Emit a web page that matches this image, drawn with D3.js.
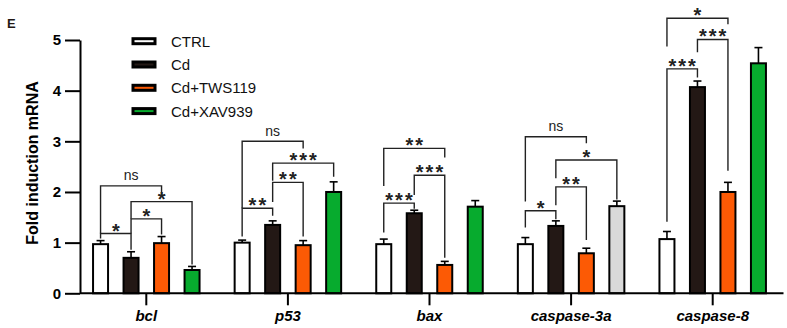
<!DOCTYPE html>
<html>
<head>
<meta charset="utf-8">
<script src="https://cdn.jsdelivr.net/npm/d3@7/dist/d3.min.js"></script>
<style>
  body { margin: 0; background: #fff; }
  svg { display: block; font-family: Arial, "Liberation Sans", sans-serif; }
</style>
</head>
<body>
<svg class="chart" width="787" height="328"></svg>
<script>
// genes on the x axis, treatment groups inside each gene
var genes = ["bcl", "p53", "bax", "caspase-3a", "caspase-8"];
var groups = ["CTRL", "Cd", "Cd+TWS119", "Cd+XAV939"];

// mean fold induction per group (one value per gene)
var ctrlMean = [0.97, 1.00, 0.97, 0.97, 1.07];
var cdMean   = [0.70, 1.35, 1.58, 1.33, 4.07];
var twsMean  = [0.99, 0.95, 0.56, 0.79, 2.00];
var xavMean  = [0.46, 2.00, 1.71, 1.72, 4.54];

// error bar (upper only)
var ctrlErr = [0.07, 0.05, 0.10, 0.13, 0.15];
var cdErr   = [0.12, 0.08, 0.06, 0.10, 0.12];
var twsErr  = [0.13, 0.09, 0.07, 0.10, 0.19];
var xavErr  = [0.07, 0.20, 0.12, 0.10, 0.31];

var yTicks = [0, 1, 2, 3, 4, 5];

// significance brackets: gene, from group, to group, level, left leg end, right leg end, label
var brackets = [
  ["bcl", 0, 1, 1.18, 1.08, 0.86, "*"],
  ["bcl", 1, 2, 1.47, 1.18, 1.16, "*"],
  ["bcl", 1, 3, 1.81, 1.47, 0.57, "*"],
  ["bcl", 0, 2, 2.12, 1.18, 1.92, "ns"],
  ["p53", 0, 1, 1.68, 1.12, 1.53, "**"],
  ["p53", 1, 2, 2.19, 1.80, 1.12, "**"],
  ["p53", 1, 3, 2.57, 2.22, 2.30, "***"],
  ["p53", 0, 2, 3.00, 1.68, 2.86, "ns"],
  ["bax", 0, 1, 1.78, 1.20, 1.67, "***"],
  ["bax", 1, 2, 2.33, 1.94, 0.70, "***"],
  ["bax", 0, 2, 2.86, 2.12, 2.68, "**"],
  ["caspase-3a", 0, 1, 1.63, 1.30, 1.46, "*"],
  ["caspase-3a", 1, 2, 2.10, 1.74, 1.05, "**"],
  ["caspase-3a", 1, 3, 2.63, 2.27, 1.85, "*"],
  ["caspase-3a", 0, 2, 3.09, 1.81, 2.96, "ns"],
  ["caspase-8", 0, 1, 4.43, 1.41, 4.26, "***"],
  ["caspase-8", 1, 2, 5.01, 4.76, 2.42, "***"],
  ["caspase-8", 0, 2, 5.43, 4.87, 5.31, "*"]
];

var means = [ctrlMean, cdMean, twsMean, xavMean];
var errs = [ctrlErr, cdErr, twsErr, xavErr];
var colors = ["#ffffff", "#231815", "#fc5a05", "#07ab2e"];
var greyFill = "#d9d9d9"; // 4th bar of caspase-3a is grey in the figure

var svg = d3.select(".chart");

var x = d3.scaleBand().domain(genes).range([75.5, 783.5]);
var inner = d3.scaleBand().domain(d3.range(groups.length))
  .range([-61, 61]).paddingInner(0.508).paddingOuter(0.254);
var y = d3.scaleLinear().domain([0, 5]).range([293.3, 40]);

function cx(gene, g) {
  return x(gene) + x.bandwidth() / 2 + inner(g) + inner.bandwidth() / 2;
}

// table of bars
var bars = [];
genes.forEach(function(gene, i) {
  groups.forEach(function(grp, g) {
    bars.push({gene: gene, g: g, v: means[g][i], e: errs[g][i]});
  });
});

// error bars first so bar outline covers the bottom of the stem
var eb = svg.append("g").attr("stroke", "#000").attr("stroke-width", 1.6);
eb.selectAll(".stem").data(bars).enter().append("line")
  .attr("x1", function(d) { return cx(d.gene, d.g); })
  .attr("x2", function(d) { return cx(d.gene, d.g); })
  .attr("y1", function(d) { return y(d.v); })
  .attr("y2", function(d) { return y(d.v + d.e); });
eb.selectAll(".cap").data(bars).enter().append("line")
  .attr("x1", function(d) { return cx(d.gene, d.g) - 4; })
  .attr("x2", function(d) { return cx(d.gene, d.g) + 4; })
  .attr("y1", function(d) { return y(d.v + d.e); })
  .attr("y2", function(d) { return y(d.v + d.e); });

svg.append("g").selectAll("rect").data(bars).enter().append("rect")
  .attr("x", function(d) { return cx(d.gene, d.g) - inner.bandwidth() / 2; })
  .attr("y", function(d) { return y(d.v); })
  .attr("width", inner.bandwidth())
  .attr("height", function(d) { return y(0) - y(d.v); })
  .attr("fill", function(d) { return (d.gene == "caspase-3a" && d.g == 3) ? greyFill : colors[d.g]; })
  .attr("stroke", "#000")
  .attr("stroke-width", 2);

// brackets
var br = svg.append("g");
brackets.forEach(function(b) {
  var x1 = cx(b[0], b[1]), x2 = cx(b[0], b[2]);
  br.append("path")
    .attr("d", "M" + x1 + "," + y(b[4]) + "V" + y(b[3]) + "H" + x2 + "V" + y(b[5]))
    .attr("fill", "none").attr("stroke", "#222").attr("stroke-width", 1.4);
  var ns = b[6] == "ns";
  br.append("text")
    .attr("x", (x1 + x2) / 2 + (ns ? 0 : 1))
    .attr("y", y(b[3]) + (ns ? -5.5 : 4))
    .attr("text-anchor", "middle")
    .style("font-size", ns ? "14px" : "20px")
    .style("font-weight", ns ? "normal" : "bold")
    .style("letter-spacing", ns ? "0px" : "2px")
    .attr("fill", "#222")
    .text(b[6]);
});

// y axis
var yAxis = svg.append("g")
  .attr("transform", "translate(80,0)")
  .call(d3.axisLeft(y).tickValues(yTicks).tickFormat(d3.format("d"))
    .tickSize(15).tickPadding(4).tickSizeOuter(0));
yAxis.select(".domain").attr("stroke-width", 2);
yAxis.selectAll(".tick line").attr("stroke-width", 2);
yAxis.selectAll("text").style("font-size", "15px").style("font-weight", "bold")
  .style("font-family", "Arial, 'Liberation Sans', sans-serif").attr("fill", "#000");

// x axis
var xAxis = svg.append("g")
  .attr("transform", "translate(0," + y(0) + ")")
  .call(d3.axisBottom(x).tickSize(12).tickPadding(5).tickSizeOuter(0));
xAxis.select(".domain").remove();
xAxis.append("line").attr("x1", 80).attr("x2", 783.5).attr("stroke", "#000").attr("stroke-width", 2);
xAxis.selectAll(".tick line").attr("stroke-width", 2);
xAxis.selectAll("text").style("font-size", "15px").style("font-weight", "bold")
  .style("font-style", "italic")
  .style("font-family", "Arial, 'Liberation Sans', sans-serif").attr("fill", "#000");

// y axis title
svg.append("text")
  .attr("transform", "translate(38,163) rotate(-90)")
  .attr("text-anchor", "middle")
  .style("font-size", "16px").style("font-weight", "bold")
  .text("Fold induction mRNA");

// panel letter
svg.append("text").attr("x", 7).attr("y", 28)
  .style("font-size", "13px").style("font-weight", "bold").attr("fill", "#231815")
  .text("E");

// legend
var legend = svg.append("g").selectAll("g").data(groups).enter().append("g")
  .attr("transform", function(d, i) { return "translate(133," + (41.2 + i * 23.3) + ")"; });
legend.append("rect")
  .attr("x", 0).attr("y", -2.5).attr("width", 22).attr("height", 5)
  .attr("fill", function(d, i) { return colors[i]; })
  .attr("stroke", "#000").attr("stroke-width", 3);
legend.append("text")
  .attr("x", 38).attr("y", 5.5)
  .style("font-size", "15px")
  .attr("fill", "#111")
  .text(function(d) { return d; });
</script>
</body>
</html>
